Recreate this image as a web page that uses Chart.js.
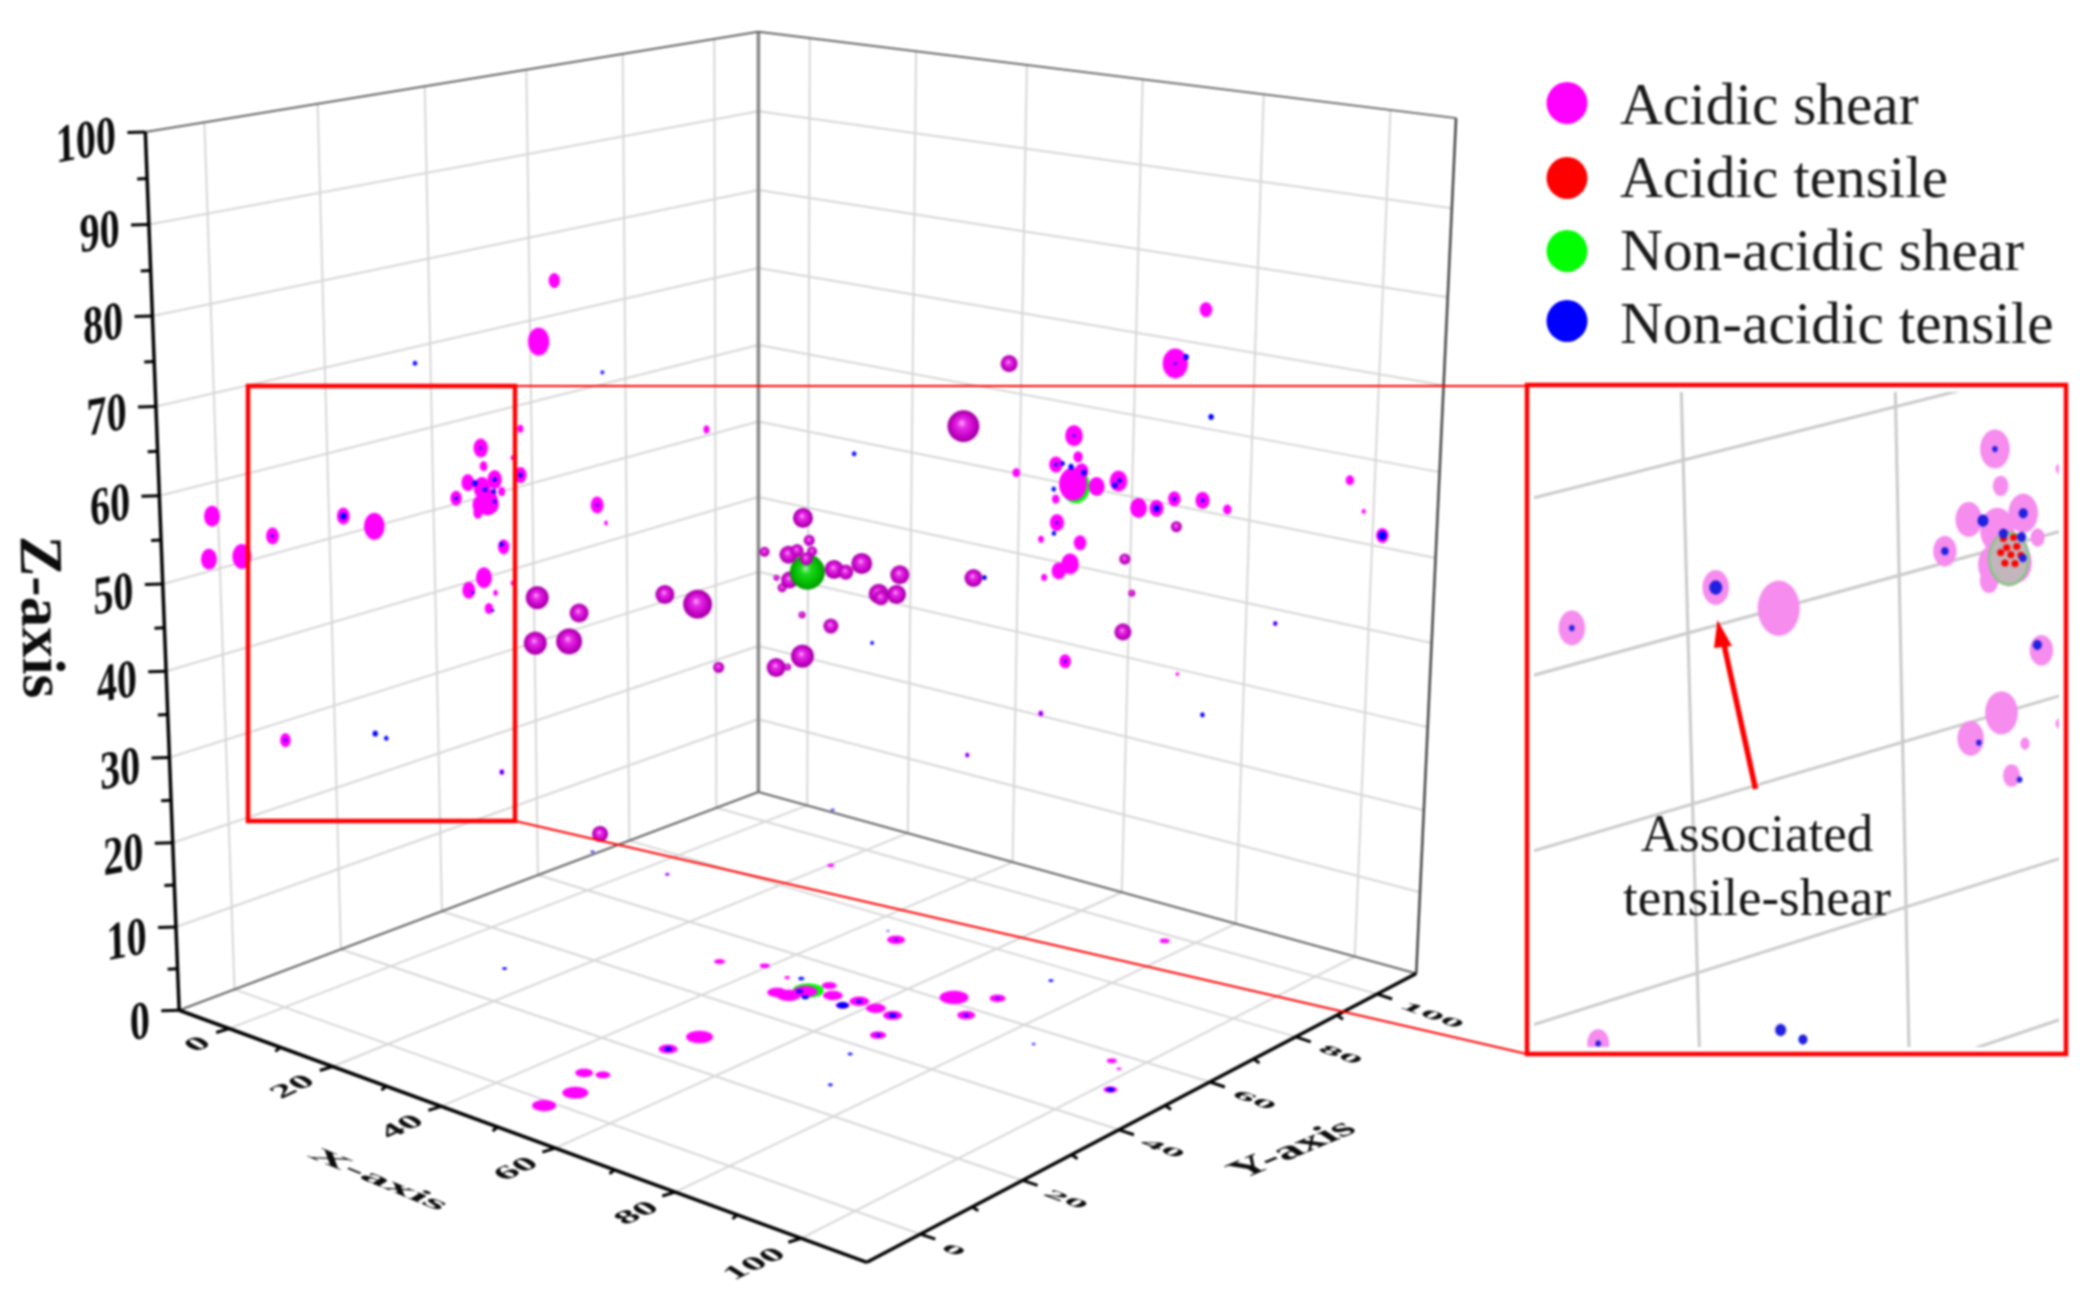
<!DOCTYPE html>
<html>
<head>
<meta charset="utf-8">
<script src="https://cdn.jsdelivr.net/npm/chart.js@4"></script>
<style>
    html, body { margin: 0; background: #fff; }
    canvas { position: absolute; filter: blur(0.8px); }
    #main { left: 0; top: 0; z-index: 2; }
    #inset { left: 1529px; top: 387px; z-index: 1; }
</style>
</head>
<body>
<canvas id="main" width="2097" height="1309"></canvas>
<canvas id="inset" width="535" height="665"></canvas>
<script>
/*******************************************************************************/
// Datos: cada punto es [a, b, magnitud]

const legendNames = ["Acidic shear", "Acidic tensile", "Non-acidic shear", "Non-acidic tensile"];
const xTicks = [0, 20, 40, 60, 80, 100];
const yTicks = [0, 20, 40, 60, 80, 100];
const zTicks = [0, 10, 20, 30, 40, 50, 60, 70, 80, 90, 100];

// pared izquierda: [y, z, magnitud]
const leftAcidicShear = [[-1.0,56.2,21],[-1.8,51.4,21],[4.0,50.7,25],[9.6,52.1,17],[22.7,52.2,17],[28.5,50.0,27],[10.8,27.7,14],[44.5,50.7,15],[46.9,52.2,17],[49.6,56.0,19],[50.1,53.7,10],[52.3,51.7,19],[49.7,51.1,22],[50.8,49.2,27],[51.6,48.8,19],[49.2,49.1,19],[48.8,48.2,12],[53.7,50.0,9],[57.6,51.4,16],[56.0,53.8,5],[57.7,57.1,8],[53.9,43.1,15],[49.8,40.0,21],[46.7,39.0,17],[52.1,37.7,6],[50.7,36.0,11],[55.6,38.3,5],[52.8,14.9,6],[73.6,45.0,17],[75.5,42.4,5],[65.1,74.2,15],[61.7,67.2,28],[97.9,50.8,8]];
const leftNonAcidicTensile = [[9.6,52.1,3],[22.7,52.2,7],[10.8,27.7,3],[44.5,50.7,4],[48.3,51.9,6],[50.3,50.8,5],[52.1,50.3,5],[52.3,51.7,5],[52.2,49.0,4],[53.5,43.5,5],[57.6,51.4,5],[52.8,14.9,4],[73.6,45.0,3],[37.0,68.1,5],[75.0,61.5,4],[27.7,25.0,6],[29.8,24.0,5],[47.5,38.6,3],[51.5,35.6,3],[49.6,56.0,3]];
const leftNonAcidicShear = [[50.8,49.2,26]];
const leftAcidicTensile = [[50.3,50.5,3.5],[51.3,50.4,3.5],[50.6,49.9,3.5],[51.6,49.8,3.5],[50.0,49.7,3.5],[51.0,49.4,3.5],[52.0,49.2,3.5],[50.4,49.0,3.5],[51.4,48.8,3.5]];

// pared derecha: [x, z, magnitud]
const rightAcidicShear = [[49.6,56.1,21],[46.5,52.1,16],[50.4,53.6,11],[51.1,51.9,16],[49.6,50.1,33],[46.6,47.8,9],[39.4,50.1,9],[53.8,50.4,19],[57.6,51.6,21],[61.2,48.8,20],[64.3,49.2,17],[67.3,50.8,15],[72.1,51.3,17],[76.3,50.8,10],[46.9,44.9,17],[44.1,42.4,7],[51.1,43.0,15],[49.4,40.1,21],[47.4,38.9,17],[44.8,37.7,7],[71.7,74.1,15],[66.8,67.1,30],[96.1,57.1,10],[98.5,53.8,5],[101.6,51.4,15],[84.9,38.3,5],[68.7,29.4,4],[44.7,20.3,6],[48.9,27.7,14],[31.2,12.5,5]];
const rightNonAcidicTensile = [[49.6,56.1,3],[46.5,52.1,4],[49.2,52.2,6],[51.5,51.8,6],[47.7,52.4,5],[46.2,49.0,5],[57.8,51.7,5],[57.0,51.0,6],[64.3,49.2,7],[67.3,50.8,4],[72.1,51.3,4],[46.9,44.9,3],[46.4,43.5,5],[66.8,67.1,3],[68.6,68.1,6],[73.1,61.5,6],[101.6,51.4,9],[84.9,38.3,4],[73.2,25.1,5],[44.7,20.3,3],[48.9,27.7,3],[33.9,36.0,5],[12.7,24.1,4],[31.2,12.5,3],[8.9,48.3,5]];
const rightNonAcidicShear = [[50.1,49.9,34]];

// suelo: [x, y, magnitud]
const floorAcidicShear = [[49.8,-1.4,24],[50.0,4.2,26],[46.4,9.7,18],[48.7,10.8,15],[49.7,28.6,27],[49.3,22.8,19],[33.6,51.0,11],[39.4,53.9,10],[44.7,52.5,6],[47.0,73.6,18],[51.0,54.0,15],[49.1,47.6,24],[47.2,47.4,20],[49.9,50.2,24],[53.7,51.5,20],[57.8,52.2,20],[61.1,51.7,20],[64.4,51.2,19],[67.3,44.5,16],[66.7,61.7,29],[71.4,65.3,16],[71.9,57.7,18],[96.1,57.6,10],[98.4,56.0,5],[101.6,49.7,14],[20.3,91.3,7],[4.4,72.6,5],[76.1,98.0,10],[57.0,49.6,14]];
const floorNonAcidicTensile = [[49.3,22.8,8],[49.3,49.7,7],[51.3,48.5,7],[57.0,49.6,12],[57.8,52.2,6],[64.4,51.2,8],[67.3,44.5,5],[46.4,53.5,6],[12.7,29.6,5],[73.0,75.3,5],[84.9,55.5,4],[68.6,37.1,5],[73.2,27.5,5],[101.6,49.7,8],[4.4,72.6,3],[4.4,110.9,4],[-10.8,72.7,4],[43.9,75.6,3],[47.0,73.6,4],[71.9,57.7,5],[71.4,65.3,4]];
const floorNonAcidicShear = [[50.0,50.7,31]];

// esferas, en el plano y = 50: [x, z, magnitud]
const ballY = 50;
const ballAcidicShear = [[0.3,39.1,23],[8.4,38.5,19],[-0.2,33.4,23],[6.4,34.7,26],[24.6,43.3,19],[30.6,43.1,29],[34.4,36.2,11],[49.3,56.0,20],[50.4,53.6,11],[42.6,51.1,10],[46.8,51.4,18],[48.3,52.1,13],[50.9,52.4,10],[49.9,51.4,13],[54.7,50.9,19],[56.7,50.9,15],[59.4,52.3,21],[65.8,52.0,19],[62.3,49.3,20],[62.7,48.9,15],[65.3,49.7,19],[77.9,53.5,18],[49.2,44.8,7],[54.2,44.3,15],[49.3,40.0,23],[44.7,37.9,19],[46.7,38.3,7],[83.0,77.7,17],[109.1,63.8,11],[101.5,59.2,11],[102.7,55.7,7],[101.5,51.3,17],[75.9,70.0,32],[12.0,11.8,16]];
const ballAcidicShearRear = [[44.7,48.4,6],[45.7,47.4,9],[47.0,48.5,17]];
const ballNonAcidicShear = [[50.1,49.9,35]];

/*******************************************************************************/
// Proyeccion del cubo a la imagen

const cubeCorners = [[0,0,0,175,1013],[0,0,1,141,128],[0,1,0,757,793],[0,1,1,757,27],[1,1,0,1418,976],[1,1,1,1458,114],[1,0,0,866,1267]];

function solveCamera() {
    let filas = [], ladoB = [];
    cubeCorners.forEach((c) => {
        const [a, b, d, px, py] = c;
        const u = px / 1000, v = py / 1000;
        filas.push([a, b, d, 1, 0, 0, 0, 0, -u * a, -u * b, -u * d]);
        ladoB.push(u);
        filas.push([0, 0, 0, 0, a, b, d, 1, -v * a, -v * b, -v * d]);
        ladoB.push(v);
    });
    let n = [...Array(11)].map(() => Array(12).fill(0));
    filas.forEach((r, k) => {
        for (let i = 0; i < 11; i++) {
            for (let j = 0; j < 11; j++) n[i][j] += r[i] * r[j];
            n[i][11] += r[i] * ladoB[k];
        }
    });
    for (let i = 0; i < 11; i++) {
        let m = i;
        for (let k = i; k < 11; k++) if (Math.abs(n[k][i]) > Math.abs(n[m][i])) m = k;
        [n[i], n[m]] = [n[m], n[i]];
        for (let k = 0; k < 11; k++) {
            if (k != i) {
                const f = n[k][i] / n[i][i];
                for (let j = i; j < 12; j++) n[k][j] -= f * n[i][j];
            }
        }
    }
    const p = n.map((r, i) => r[11] / r[i]);
    return [[p[0], p[1], p[2], p[3]], [p[4], p[5], p[6], p[7]], [p[8], p[9], p[10], 1]];
}

const camera = solveCamera();

function projectUnit(a, b, c) {
    const n = [a, b, c, 1];
    const dot = (r) => r.reduce((s, v, i) => s + v * n[i], 0);
    const d = dot(camera[2]);
    return { x: 1000 * dot(camera[0]) / d, y: 1000 * dot(camera[1]) / d };
}

function project(x, y, z) {
    return projectUnit((x + 10) / 120, (y + 10) / 120, z / 100);
}

// Las aristas de la caja no cuadran del todo con una sola camara: se reparte el resto entre las esquinas
const cornerRest = cubeCorners.map((c) => {
    const p = projectUnit(c[0], c[1], c[2]);
    return [c[0], c[1], c[2], c[3] - p.x, c[4] - p.y];
});

function frame(x, y, z) {
    const a = (x + 10) / 120, b = (y + 10) / 120, c = z / 100;
    const p = projectUnit(a, b, c);
    cornerRest.forEach((r) => {
        const w = (r[0] ? a : 1 - a) * (r[1] ? b : 1 - b) * (r[2] ? c : 1 - c);
        p.x += w * r[3];
        p.y += w * r[4];
    });
    return p;
}

const onLeft = (p) => project(-10, p[0], p[1]);
const onRight = (p) => project(p[0], 110, p[1]);
const onFloor = (p) => project(p[0], p[1], 0);
const onBall = (p) => project(p[0], ballY, p[1]);

/*******************************************************************************/
// Marcas (canvas pequeños que Chart.js usa como pointStyle)

function ellipseMark(color, rx, ry) {
    const c = document.createElement("canvas");
    c.width = Math.ceil(rx * 2) + 2;
    c.height = Math.ceil(ry * 2) + 2;
    const g = c.getContext("2d");
    g.fillStyle = color;
    g.beginPath();
    g.ellipse(c.width / 2, c.height / 2, rx, ry, 0, 0, Math.PI * 2);
    g.fill();
    return c;
}

function ballMark(stops, d) {
    const c = document.createElement("canvas");
    c.width = c.height = Math.ceil(d) + 2;
    const g = c.getContext("2d");
    const m = c.width / 2, r = d / 2;
    const grad = g.createRadialGradient(m - r * 0.12, m - r * 0.22, 0, m, m, r);
    stops.forEach((s) => grad.addColorStop(s[0], s[1]));
    g.fillStyle = grad;
    g.beginPath();
    g.arc(m, m, r, 0, Math.PI * 2);
    g.fill();
    return c;
}

const pinkBall = [[0, "#f8b0f4"], [0.3, "#e82ae8"], [0.75, "#c400c4"], [0.94, "#9a009a"], [1, "#d020d0"]];
const greenBall = [[0, "#a8f2a8"], [0.3, "#1cd81c"], [0.8, "#00b400"], [1, "#009400"]];

/*******************************************************************************/
// Datasets

function markDataset(label, datos, lugar, aspecto, color, escala, orden) {
    return {
        label: label,
        data: datos.map(lugar),
        pointStyle: datos.map((p) => ellipseMark(color, p[2] * escala * aspecto[0] / 2, p[2] * escala * aspecto[1] / 2)),
        pointRadius: 2,
        showLine: false,
        order: orden
    };
}

function ballDataset(label, datos, stops, orden) {
    return {
        label: label,
        data: datos.map(onBall),
        pointStyle: datos.map((p) => ballMark(stops, p[2])),
        pointRadius: 2,
        showLine: false,
        order: orden
    };
}

function lineDataset(segmentos, color, ancho, orden) {
    let puntos = [];
    segmentos.forEach((s) => {
        puntos.push(s[0], s[1], { x: NaN, y: NaN });
    });
    return {
        data: puntos,
        showLine: true,
        spanGaps: false,
        borderColor: color,
        borderWidth: ancho,
        pointRadius: 0,
        order: orden
    };
}

function gridSegments() {
    let s = [];
    yTicks.forEach((v) => s.push([frame(-10, v, 0), frame(-10, v, 100)]));
    xTicks.forEach((v) => s.push([frame(v, 110, 0), frame(v, 110, 100)]));
    zTicks.slice(1, -1).forEach((v) => {
        s.push([frame(-10, -10, v), frame(-10, 110, v)]);
        s.push([frame(-10, 110, v), frame(110, 110, v)]);
    });
    xTicks.forEach((v) => s.push([frame(v, -10, 0), frame(v, 110, 0)]));
    yTicks.forEach((v) => s.push([frame(-10, v, 0), frame(110, v, 0)]));
    return s;
}

function tickSegments() {
    let s = [];
    for (let v = 0; v <= 100; v += 5) {
        const p = frame(-10, -10, v);
        const l = v % 10 == 0 ? 18 : 10;
        s.push([p, { x: p.x - l, y: p.y + 0.5 }]);
    }
    for (let v = 0; v <= 100; v += 10) {
        const p = frame(v, -10, 0);
        const q = frame(110, v, 0);
        const mayor = v % 20 == 0;
        s.push([p, mayor ? { x: p.x - 13, y: p.y + 4 } : { x: p.x - 5, y: p.y + 4 }]);
        s.push([q, mayor ? { x: q.x + 15, y: q.y + 5 } : { x: q.x + 6, y: q.y + 4 }]);
    }
    return s;
}

const leftAspect = [0.76, 1], rightAspect = [0.84, 1], floorAspect = [1, 0.47];
const magenta = "#ff00ff", pale = "#f58cee", blue = "#0000ff", green = "#00ff00", red = "#ff0000";

const mainDatasets = [
    lineDataset(gridSegments(), "#d6d6d6", 2, 100),
    lineDataset([[frame(-10, 110, 0), frame(-10, 110, 100)]], "#868686", 3.5, 95),
    lineDataset([[frame(-10, -10, 100), frame(-10, 110, 100)], [frame(-10, 110, 100), frame(110, 110, 100)],
        [frame(-10, -10, 0), frame(-10, 110, 0)], [frame(-10, 110, 0), frame(110, 110, 0)]], "#666666", 2, 94),
    lineDataset([[frame(110, 110, 0), frame(110, 110, 100)]], "#444444", 2.5, 93),
    lineDataset([[frame(-10, -10, 0), frame(-10, -10, 100)], [frame(-10, -10, 0), frame(110, -10, 0)],
        [frame(110, -10, 0), frame(110, 110, 0)]], "#000000", 3.5, 92),
    lineDataset(tickSegments(), "#000000", 3, 91),
    markDataset(legendNames[2], leftNonAcidicShear, onLeft, leftAspect, green, 1, 62),
    markDataset(legendNames[2], rightNonAcidicShear, onRight, rightAspect, green, 1, 62),
    markDataset(legendNames[2], floorNonAcidicShear, onFloor, floorAspect, green, 1, 62),
    markDataset(legendNames[1], leftAcidicTensile, onLeft, leftAspect, red, 1, 61),
    markDataset(legendNames[0], floorAcidicShear, onFloor, floorAspect, magenta, 1, 50),
    markDataset(legendNames[0], leftAcidicShear, onLeft, leftAspect, magenta, 1, 50),
    markDataset(legendNames[0], rightAcidicShear, onRight, rightAspect, magenta, 1, 50),
    markDataset(legendNames[3], floorNonAcidicTensile, onFloor, [1, 0.55], blue, 1, 40),
    markDataset(legendNames[3], leftNonAcidicTensile, onLeft, [0.9, 1], blue, 1, 40),
    markDataset(legendNames[3], rightNonAcidicTensile, onRight, [0.9, 1], blue, 1, 40),
    ballDataset(legendNames[0], ballAcidicShearRear, pinkBall, 32),
    ballDataset(legendNames[2], ballNonAcidicShear, greenBall, 31),
    ballDataset(legendNames[0], ballAcidicShear, pinkBall, 30)
];

// El recuadro amplia una parte de la pared izquierda
const insetScale = 2.05;
const insetDatasets = [
    lineDataset(gridSegments(), "#c9c9c9", 3, 100),
    markDataset(legendNames[0], leftAcidicShear, onLeft, leftAspect, pale, insetScale, 50),
    markDataset(legendNames[2], leftNonAcidicShear, onLeft, leftAspect, green, insetScale, 45),
    markDataset(legendNames[0], [[50.8, 49.2, 25]], onLeft, leftAspect, "#c0b6bc", insetScale, 44),
    markDataset(legendNames[1], leftAcidicTensile, onLeft, [1, 1], red, insetScale, 42),
    markDataset(legendNames[3], leftNonAcidicTensile, onLeft, [0.9, 1], "#2020e0", insetScale, 40)
];

/*******************************************************************************/
// Textos y anotaciones

function texto(ctx, str, x, y, vx, vy, align, font) {
    ctx.save();
    ctx.transform(vx[0], vx[1], vy[0], vy[1], x, y);
    ctx.font = font;
    ctx.textAlign = align;
    ctx.textBaseline = "middle";
    ctx.fillStyle = "#0c0c0c";
    ctx.fillText(str, 0, 0);
    ctx.restore();
}

const annotations = {
    id: "annotations",
    afterDatasetsDraw(chart) {
        const ctx = chart.ctx;
        const bold = "bold 40px 'Liberation Serif'";

        zTicks.forEach((v) => {
            const p = frame(-10, -10, v);
            texto(ctx, String(v), p.x - 25, p.y + 10, [1.0, -0.18], [0.03, 1.35], "right", bold);
        });
        xTicks.forEach((v) => {
            const p = frame(v, -10, 0);
            texto(ctx, String(v), p.x - 18, p.y + 9, [0.9, -0.42], [0.55, 0.35], "right", bold);
        });
        yTicks.forEach((v) => {
            const p = frame(110, v, 0);
            texto(ctx, String(v), p.x + 23, p.y + 8, [0.99, 0.36], [-0.37, 0.22], "left", bold);
        });

        texto(ctx, "Z-axis", 38, 617, [0.02, 1], [-1, 0], "center", "bold 61px 'Liberation Serif'");
        texto(ctx, "X-axis", 378, 1180, [1.11, 0.46], [-0.5, 0.3], "center", "bold 44px 'Liberation Serif'");
        texto(ctx, "Y-axis", 1293, 1150, [1.0, -0.42], [0.68, 0.45], "center", "bold 44px 'Liberation Serif'");

        // leyenda
        [magenta, red, green, blue].forEach((color, i) => {
            const y = [103, 178, 251, 321][i];
            ctx.fillStyle = color;
            ctx.beginPath();
            ctx.ellipse(1567, y, 20.5, 21, 0, 0, Math.PI * 2);
            ctx.fill();
            ctx.font = "59.4px 'Liberation Serif'";
            ctx.textAlign = "left";
            ctx.textBaseline = "alphabetic";
            ctx.fillStyle = "#1a1a1a";
            ctx.fillText(legendNames[i], 1620, [124, 197, 270, 343][i]);
        });

        // recuadros y lineas rojas
        ctx.strokeStyle = red;
        ctx.lineWidth = 4.5;
        ctx.strokeRect(248, 386, 267, 435);
        ctx.strokeRect(1527, 385, 539, 669);
        ctx.lineWidth = 2;
        ctx.beginPath();
        ctx.moveTo(515, 386);
        ctx.lineTo(1527, 386);
        ctx.moveTo(515, 821);
        ctx.lineTo(1527, 1054);
        ctx.stroke();

        // flecha
        ctx.lineWidth = 5.5;
        ctx.beginPath();
        ctx.moveTo(1755.5, 789);
        ctx.lineTo(1723, 640);
        ctx.stroke();
        ctx.fillStyle = red;
        ctx.beginPath();
        ctx.moveTo(1717.5, 620);
        ctx.lineTo(1732, 646);
        ctx.lineTo(1714, 648);
        ctx.closePath();
        ctx.fill();

        ctx.font = "53px 'Liberation Serif'";
        ctx.textAlign = "center";
        ctx.textBaseline = "alphabetic";
        ctx.fillStyle = "#141414";
        ctx.fillText("Associated", 1757, 851);
        ctx.fillText("tensile-shear", 1757, 915);
    }
};

/*******************************************************************************/
// Graficos

function crearGrafico(id, datasets, limites, plugins) {
    return new Chart(document.getElementById(id).getContext("2d"), {
        type: "scatter",
        data: { datasets: datasets },
        options: {
            responsive: false,
            animation: false,
            events: [],
            layout: { padding: 0 },
            elements: { line: { tension: 0 } },
            plugins: { legend: { display: false }, tooltip: { enabled: false } },
            scales: {
                x: { type: "linear", display: false, min: limites[0], max: limites[1] },
                y: { type: "linear", display: false, reverse: true, min: limites[2], max: limites[3] }
            }
        },
        plugins: plugins
    });
}

crearGrafico("inset", insetDatasets, [250, 509.7, 418.2, 742.6], []);
crearGrafico("main", mainDatasets, [0, 2097, 0, 1309], [annotations]);
</script>
</body>
</html>
